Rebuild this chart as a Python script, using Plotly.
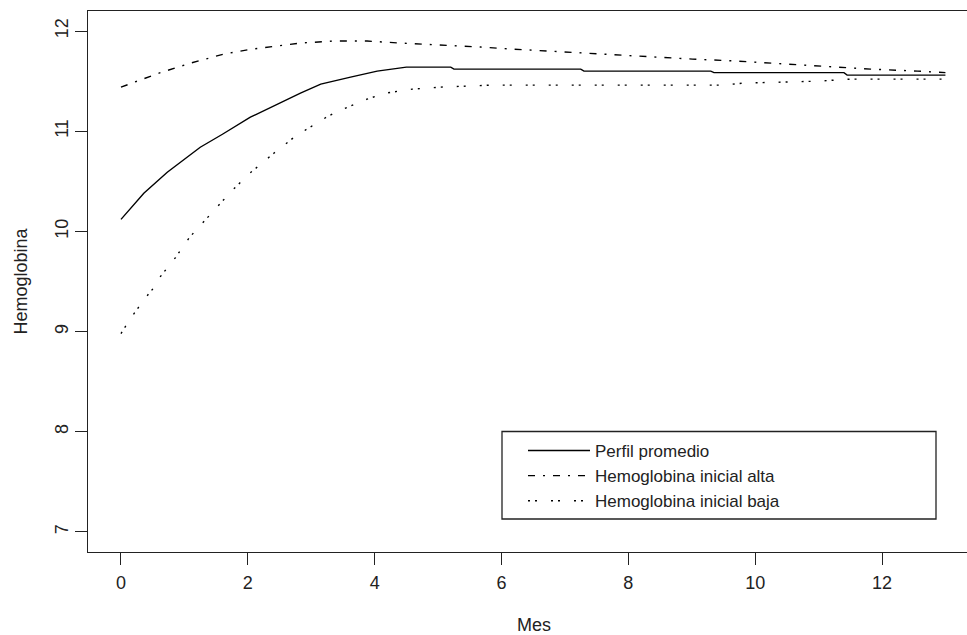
import plotly.graph_objects as go

# ---- data ----
mes_prom = [0, 0.36, 0.73, 1.25, 1.6, 2.04, 2.83, 3.15, 3.62, 4.04, 4.5, 5.2, 5.25, 7.25, 7.3, 9.3, 9.35, 11.4, 11.45, 13]
hb_prom = [10.12, 10.38, 10.59, 10.84, 10.97, 11.14, 11.38, 11.47, 11.54, 11.60, 11.64, 11.64, 11.62, 11.62, 11.60, 11.60, 11.585, 11.585, 11.56, 11.56]

mes_alta = [0, 0.6, 1.1, 1.62, 2.07, 2.83, 3.35, 3.88, 4.41, 5.14, 5.67, 6.17, 6.70, 7.43, 7.96, 8.46, 9.01, 9.72, 10.24, 10.77, 11.30, 11.82, 12.56, 13]
hb_alta = [11.44, 11.58, 11.68, 11.77, 11.82, 11.88, 11.90, 11.90, 11.88, 11.86, 11.84, 11.82, 11.80, 11.78, 11.76, 11.74, 11.72, 11.70, 11.68, 11.66, 11.64, 11.62, 11.60, 11.585]

mes_baja = [0, 0.16, 0.39, 0.52, 0.61, 0.74, 0.86, 1.08, 1.74, 2.03, 2.25, 2.41, 2.57, 2.73, 2.98, 3.24, 3.42, 3.88, 4.17, 4.59, 5.04, 5.83, 9.5, 9.8, 11.0, 11.5, 13]
hb_baja = [8.98, 9.14, 9.34, 9.44, 9.54, 9.64, 9.74, 9.94, 10.40, 10.58, 10.70, 10.78, 10.86, 10.94, 11.04, 11.14, 11.20, 11.32, 11.38, 11.42, 11.44, 11.46, 11.46, 11.48, 11.50, 11.52, 11.52]

series_names = ["Perfil promedio", "Hemoglobina inicial alta", "Hemoglobina inicial baja"]
x_ticks = [0, 2, 4, 6, 8, 10, 12]
y_ticks = [7, 8, 9, 10, 11, 12]

FONT = "Liberation Sans, Arial, sans-serif"
TXT = "#222"

fig = go.Figure()
fig.add_trace(go.Scatter(x=mes_prom, y=hb_prom, mode="lines", name=series_names[0],
                         line=dict(color="black", width=1.4, dash="solid")))
fig.add_trace(go.Scatter(x=mes_alta, y=hb_alta, mode="lines", name=series_names[1],
                         line=dict(color="black", width=1.4, dash="7px,8px,2px,8px")))
fig.add_trace(go.Scatter(x=mes_baja, y=hb_baja, mode="lines", name=series_names[2],
                         line=dict(color="black", width=1.4, dash="2px,5px,2px,14px")))

L, T, B = 88, 11, 83
W, H = 967, 635
plot_w = W - L
plot_h = H - T - B
y_bot = H - B

fig.update_layout(
    width=W, height=H,
    margin=dict(l=L, r=0, t=T, b=B, pad=0),
    paper_bgcolor="white", plot_bgcolor="white",
    font=dict(family=FONT, size=18, color=TXT),
    showlegend=True,
    legend=dict(
        x=(523 - L) / plot_w, y=(y_bot - 433) / plot_h,
        xanchor="left", yanchor="top",
        bgcolor="rgba(0,0,0,0)", borderwidth=0,
        font=dict(family=FONT, size=17, color=TXT),
        itemwidth=62, tracegroupgap=0,
    ),
    shapes=[dict(type="rect", xref="paper", yref="paper",
                 x0=(502 - L) / plot_w, x1=(936 - L) / plot_w,
                 y0=(y_bot - 519) / plot_h, y1=(y_bot - 431.5) / plot_h,
                 line=dict(color=TXT, width=1.3), fillcolor="rgba(0,0,0,0)")],
    annotations=[dict(text="Mes", xref="paper", yref="paper",
                      x=(534 - L) / plot_w, y=(y_bot - 625) / plot_h,
                      xanchor="center", yanchor="middle", showarrow=False,
                      font=dict(family=FONT, size=18, color=TXT))],
)

fig.update_xaxes(
    range=[-0.52, (W - 120.7) / 63.44],
    tickmode="array", tickvals=x_ticks, ticktext=[str(v) for v in x_ticks],
    ticks="outside", ticklen=12, tickwidth=1.3, tickcolor=TXT,
    showline=True, linecolor=TXT, linewidth=1.3, mirror=True,
    showgrid=False, zeroline=False,
    tickfont=dict(family=FONT, size=18, color=TXT),
    ticklabelstandoff=2,
)
fig.update_yaxes(
    range=[6.8, 12.2],
    tickmode="array", tickvals=y_ticks, ticktext=[str(v) for v in y_ticks],
    ticks="outside", ticklen=12, tickwidth=1.3, tickcolor=TXT,
    showline=True, linecolor=TXT, linewidth=1.3, mirror=False,
    showgrid=False, zeroline=False, tickangle=-90,
    tickfont=dict(family=FONT, size=18, color=TXT),
    ticklabelstandoff=0,
    title=dict(text="Hemoglobina", font=dict(family=FONT, size=18, color=TXT), standoff=19),
)

fig.write_html("out.html", config={"displayModeBar": False},
               post_script="document.body.style.margin='0';")
